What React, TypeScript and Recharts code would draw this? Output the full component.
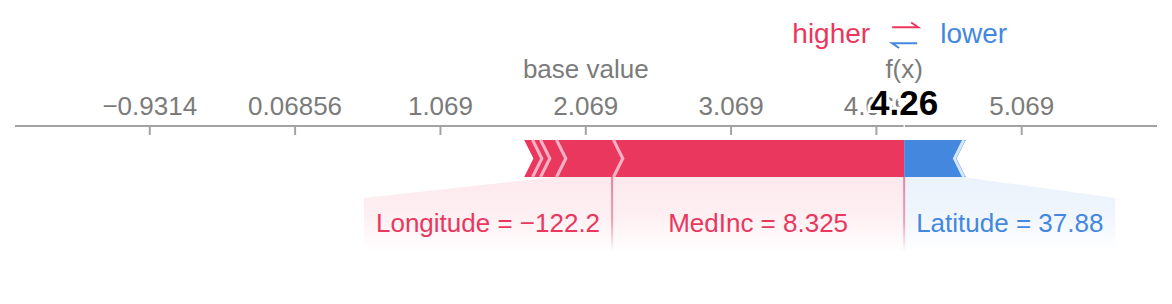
import { Bar, ComposedChart, ReferenceLine, XAxis, YAxis } from "recharts";

const RED = "#EA375E";
const BLUE = "#4388DE";
const RED_PALE = "#F6B2C5";
const BLUE_PALE = "#D4E5F8";
const GREY = "#7B7B7B";
const AXIS = "#A3A3A3";
const FONT = "'Liberation Sans', Arial, Helvetica, sans-serif";

// SHAP force plot values
const baseValue = 2.069;
const posNames = ["AveBedrms", "HouseAge", "AveRooms", "Longitude", "MedInc"];
const posValues = [0.048, 0.055, 0.11, 0.392, 2.01];
const posLabels = ["", "", "", "Longitude = −122.2", "MedInc = 8.325"];
const negNames = ["Latitude", "AveOccup"];
const negValues = [0.4, 0.024];
const negLabels = ["Latitude = 37.88", ""];
const axisTicks = [-0.9314, 0.06856, 1.069, 2.069, 3.069, 4.069, 5.069];
const axisDomain = [-1.859, 6.0];

const sumPos = posValues.reduce((a, b) => a + b, 0);
const sumNeg = negValues.reduce((a, b) => a + b, 0);
const fx = baseValue + sumPos - sumNeg;

const row: Record<string, number | string> = { row: "f", start: baseValue - sumNeg };
posNames.forEach((n, i) => (row[n] = posValues[i]));
negNames.forEach((n, i) => (row[n] = negValues[i]));
const data = [row];

const W = 1172;
const H = 304;
const MARGIN = { top: 96, right: 15, bottom: 113, left: 15 };

const ctx = typeof document !== "undefined" ? document.createElement("canvas").getContext("2d") : null;
function textWidth(s: string, size: number) {
  if (!ctx) return s.length * size * 0.5;
  ctx.font = `${size}px "Liberation Sans"`;
  return ctx.measureText(s).width;
}

const fmt = (v: number) => String(v).replace("-", "\u2212");

function AxisTick(props: any) {
  const { x, y, payload } = props;
  return (
    <g>
      <line x1={x} x2={x} y1={y} y2={y + 9} stroke={AXIS} strokeWidth={2} />
      <text x={x} y={y - 11} textAnchor="middle" fill={GREY} fontSize={26} fontFamily={FONT}>
        {fmt(payload.value)}
      </text>
    </g>
  );
}

function Segment(props: any) {
  const { x, y, width, height, pos, idx, label } = props;
  const tip = height * 0.25;
  const top = y;
  const bot = y + height;
  const mid = y + height / 2;
  const x0 = x;
  const x1 = x + width;
  let pts: number[][];
  let sep: string | null = null;
  if (pos) {
    const last = idx === posValues.length - 1;
    pts = [[x0, top], [x1, top], [last ? x1 : x1 + tip, mid], [x1, bot], [x0, bot], [x0 + tip, mid]];
    if (idx > 0) sep = `${x0 + 1.5},${top} ${x0 + tip + 1.5},${mid} ${x0 + 1.5},${bot}`;
  } else {
    const first = idx === 0;
    pts = [[x0, top], [x1, top], [x1 - tip, mid], [x1, bot], [x0, bot], [first ? x0 : x0 - tip, mid]];
    if (!first) sep = `${x0 + 1.5},${top} ${x0 - tip + 1.5},${mid} ${x0 + 1.5},${bot}`;
  }

  let labelEl = null;
  if (label) {
    const tw = textWidth(label, 26) + 24;
    const boxTop = bot + 21;
    const boxBot = bot + 75;
    let bx0: number, bx1: number, poly: number[][];
    if (pos) {
      bx1 = x1;
      bx0 = Math.min(x0, x1 - tw);
      poly = [[x0, bot], [x1, bot], [bx1, boxBot], [bx0, boxBot], [bx0, boxTop]];
    } else {
      bx0 = x0;
      bx1 = Math.max(x1, x0 + tw);
      poly = [[x0, bot], [x1, bot], [bx1, boxTop], [bx1, boxBot], [bx0, boxBot]];
    }
    labelEl = (
      <g>
        <polygon points={poly.map((p) => p.join(",")).join(" ")} fill={pos ? "url(#lblRed)" : "url(#lblBlue)"} />
        {pos && <rect x={x1 - 1} y={bot} width={2} height={boxBot - bot} fill="url(#lineRed)" />}
        <text x={(bx0 + bx1) / 2} y={bot + 55} textAnchor="middle" fill={pos ? RED : BLUE} fontSize={26} fontFamily={FONT}>
          {label}
        </text>
      </g>
    );
  }

  return (
    <g>
      {labelEl}
      <polygon points={pts.map((p) => p.join(",")).join(" ")} fill={pos ? RED : BLUE} />
      {sep && <polyline points={sep} fill="none" stroke={pos ? RED_PALE : BLUE_PALE} strokeWidth={3} />}
    </g>
  );
}

function BaseLabel(props: any) {
  const { x, y } = props.viewBox;
  return (
    <text x={x} y={y - 48} textAnchor="middle" fill={GREY} fontSize={26} fontFamily={FONT}>
      base value
    </text>
  );
}

function FxLabel(props: any) {
  const { x, y } = props.viewBox;
  return (
    <g fontFamily={FONT}>
      <line x1={x} x2={x} y1={y - 8} y2={y + 14} stroke="#fff" strokeWidth={1.5} opacity={0.9} />
      <text x={x - 34} y={y - 83} textAnchor="end" fill={RED} fontSize={28}>higher</text>
      <polyline points={`${x - 12},${y - 98.7} ${x + 14},${y - 98.7} ${x + 7},${y - 103.5}`} fill="none" stroke={RED} strokeWidth={2} />
      <polyline points={`${x + 13},${y - 82.7} ${x - 12},${y - 82.7} ${x - 5},${y - 78}`} fill="none" stroke={BLUE} strokeWidth={2} />
      <text x={x + 36} y={y - 83} fill={BLUE} fontSize={28}>lower</text>
      <text x={x} y={y - 48} textAnchor="middle" fill={GREY} fontSize={26}>f(x)</text>
      <text x={x} y={y - 11} textAnchor="middle" fill="#000" fontSize={35} fontWeight="bold" stroke="#fff" strokeWidth={6} paintOrder="stroke">
        {fx.toFixed(2)}
      </text>
    </g>
  );
}

export default function App() {
  return (
    <div style={{ position: "absolute", left: 0, top: 0, width: W, height: H, background: "#fff" }}>
      <div style={{ position: "absolute", left: 0, top: 0 }}>
        <ComposedChart width={W} height={H} data={data} layout="vertical" margin={MARGIN}>
          <defs>
            <linearGradient id="lblRed" x1="0" y1="0" x2="0" y2="1">
              <stop offset="0" stopColor={RED} stopOpacity={0.11} />
              <stop offset="0.5" stopColor={RED} stopOpacity={0.08} />
              <stop offset="1" stopColor={RED} stopOpacity={0} />
            </linearGradient>
            <linearGradient id="lblBlue" x1="0" y1="0" x2="0" y2="1">
              <stop offset="0" stopColor={BLUE} stopOpacity={0.11} />
              <stop offset="0.5" stopColor={BLUE} stopOpacity={0.08} />
              <stop offset="1" stopColor={BLUE} stopOpacity={0} />
            </linearGradient>
            <linearGradient id="lineRed" x1="0" y1="0" x2="0" y2="1">
              <stop offset="0" stopColor={RED} stopOpacity={0.6} />
              <stop offset="0.6" stopColor={RED} stopOpacity={0.45} />
              <stop offset="1" stopColor={RED} stopOpacity={0} />
            </linearGradient>
          </defs>
          <XAxis
            type="number"
            orientation="top"
            domain={axisDomain}
            ticks={axisTicks}
            interval={0}
            height={30}
            axisLine={{ stroke: AXIS, strokeWidth: 2 }}
            tickLine={false}
            tickSize={0}
            tickMargin={0}
            tick={<AxisTick />}
          />
          <YAxis type="category" dataKey="row" hide />
          <Bar dataKey="start" stackId="f" barSize={37} isAnimationActive={false} shape={() => <g />} />
          {posNames.map((n, i) => (
            <Bar
              key={n}
              dataKey={n}
              stackId="f"
              barSize={37}
              isAnimationActive={false}
              shape={(p: any) => <Segment {...p} pos idx={i} label={posLabels[i]} />}
            />
          ))}
          {negNames.map((n, i) => (
            <Bar
              key={n}
              dataKey={n}
              stackId="f"
              barSize={37}
              isAnimationActive={false}
              shape={(p: any) => <Segment {...p} pos={false} idx={i} label={negLabels[i]} />}
            />
          ))}
          <ReferenceLine x={baseValue} stroke="none" label={BaseLabel} />
        </ComposedChart>
      </div>
      {/* overlay with the same scale, so the f(x) annotation sits above the tick labels */}
      <div style={{ position: "absolute", left: 0, top: 0 }}>
        <ComposedChart width={W} height={H} data={data} layout="vertical" margin={MARGIN}>
          <XAxis type="number" orientation="top" domain={axisDomain} ticks={axisTicks} height={30} axisLine={false} tickLine={false} tick={false} />
          <YAxis type="category" dataKey="row" hide />
          <Bar dataKey="start" barSize={37} isAnimationActive={false} shape={() => <g />} />
          <ReferenceLine x={fx} stroke="none" label={FxLabel} />
        </ComposedChart>
      </div>
    </div>
  );
}
